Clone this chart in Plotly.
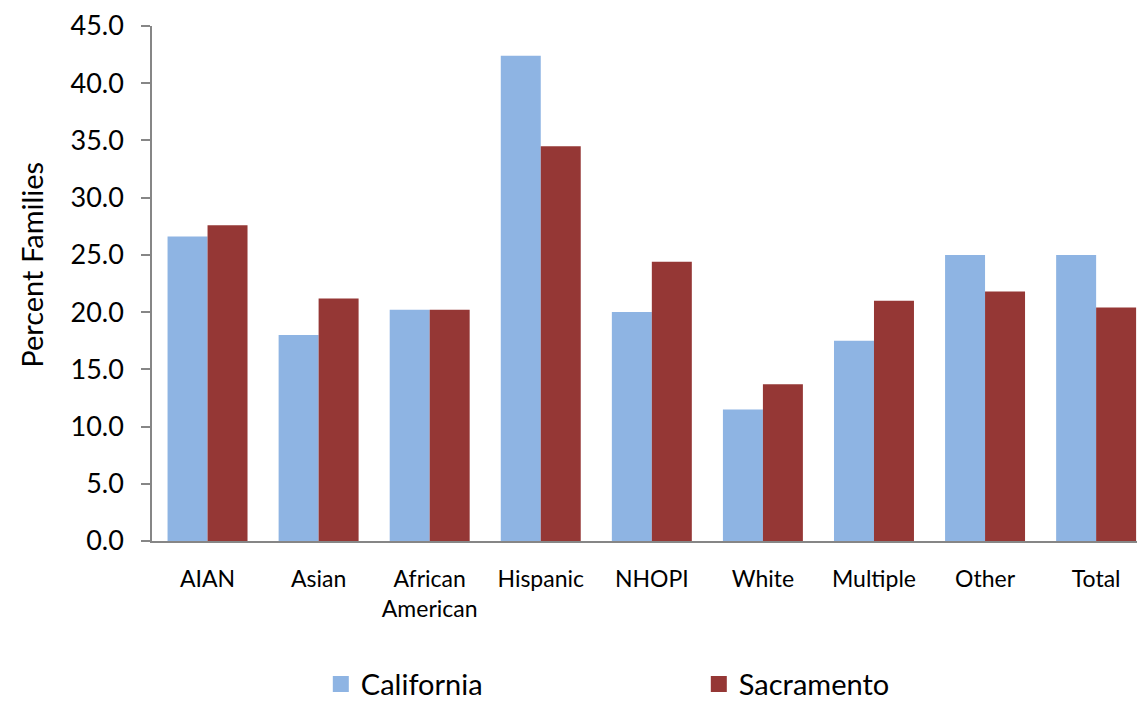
import plotly.graph_objects as go

categories = ["AIAN", "Asian", "African<br>American", "Hispanic", "NHOPI", "White", "Multiple", "Other", "Total"]
california = [26.6, 18.0, 20.2, 42.4, 20.0, 11.5, 17.5, 25.0, 25.0]
sacramento = [27.6, 21.2, 20.2, 34.5, 24.4, 13.7, 21.0, 21.8, 20.4]
y_ticks = [0, 5, 10, 15, 20, 25, 30, 35, 40, 45]

FONT = "Lato"
CA_COLOR = "#8EB4E3"
SAC_COLOR = "#953735"

fig = go.Figure()
fig.add_trace(go.Bar(name="California", x=categories, y=california, showlegend=False,
                     marker=dict(color=CA_COLOR, line=dict(width=0))))
fig.add_trace(go.Bar(name="Sacramento", x=categories, y=sacramento, showlegend=False,
                     marker=dict(color=SAC_COLOR, line=dict(width=0))))
# legend entries with larger square swatches
for name, col in [("California", CA_COLOR), ("Sacramento", SAC_COLOR)]:
    fig.add_trace(go.Scatter(name=name, x=[None], y=[None], mode="markers",
                             marker=dict(symbol="square", size=16, color=col)))

fig.update_layout(
    width=1137, height=695,
    margin=dict(l=144, r=0, t=13, b=162),
    paper_bgcolor="white", plot_bgcolor="white",
    barmode="group", bargap=0.28, bargroupgap=0,
    font=dict(family=FONT, color="black"),
    showlegend=True,
    legend=dict(orientation="h", x=0.170, xanchor="left",
                yref="container", y=0.027, yanchor="middle",
                entrywidth=333, entrywidthmode="pixels",
                font=dict(size=29, family=FONT), itemsizing="trace"),
    annotations=[dict(text="Percent Families", textangle=-90, showarrow=False,
                      xref="paper", yref="paper", x=0, y=0.5365,
                      xanchor="center", yanchor="middle", xshift=-120,
                      font=dict(size=29, family=FONT, color="black"))],
)
fig.update_yaxes(range=[0, 45], tickvals=y_ticks,
                 ticktext=[f"{v:.1f}" for v in y_ticks],
                 showgrid=False, zeroline=False,
                 showline=True, linecolor="#868686", linewidth=1.5,
                 ticks="outside", ticklen=9, tickcolor="#868686", tickwidth=1.5,
                 tickfont=dict(size=27, family=FONT), ticklabelstandoff=12,
                 ticklabeloverflow="allow")
fig.update_xaxes(range=[-0.5, 8.44], showgrid=False, showline=True,
                 linecolor="#868686", linewidth=2,
                 ticks="", tickfont=dict(size=23, family=FONT),
                 ticklabelstandoff=16)

fig.write_html("out.html")
